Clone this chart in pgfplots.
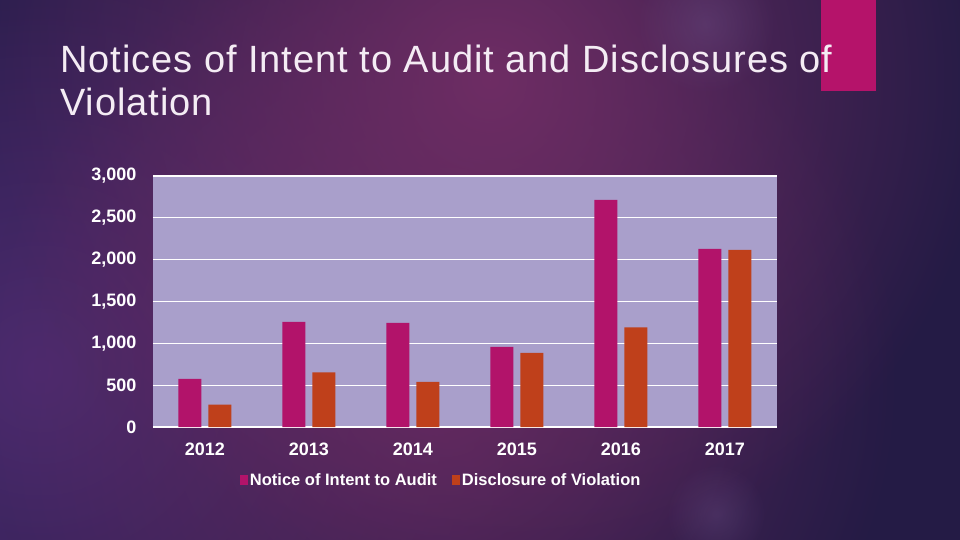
\documentclass[border=0pt]{standalone}
\usepackage{pgfplots}
\pgfplotsset{compat=1.18}
\usepackage{fontspec}
\setmainfont{Liberation Sans}
\usetikzlibrary{fadings}
\definecolor{bgdark}{HTML}{241B45}
\definecolor{glowmag}{HTML}{6E2D64}
\definecolor{glowpur}{HTML}{4C2B70}
\definecolor{plotbg}{HTML}{A99FCB}
\definecolor{nia}{HTML}{B2136A}
\definecolor{dov}{HTML}{BF401B}
\definecolor{pinkbox}{HTML}{B5136A}
\definecolor{titlecol}{HTML}{F4ECF4}
\tikzfading[name=glowfade, inner color=transparent!0, outer color=transparent!100]
\begin{document}
\begin{tikzpicture}[x=1pt,y=1pt]
\fill[bgdark] (0,0) rectangle (960,540);
\begin{scope}
\clip (0,0) rectangle (960,540);
\fill[glowpur, path fading=glowfade] (40,170) circle (500);
\fill[glowmag!80!bgdark, path fading=glowfade] (440,160) circle (460);
\fill[glowmag, path fading=glowfade] (490,460) circle (500);
\fill[glowpur!80!white, opacity=0.35, path fading=glowfade] (706,516) circle (70);
\fill[glowpur!80!white, opacity=0.3, path fading=glowfade] (716,26) circle (50);
\end{scope}
\fill[pinkbox] (821,449) rectangle (876,540);
\node[anchor=base west, inner sep=0, text=titlecol, font=\fontsize{38}{44}\selectfont\addfontfeature{LetterSpace=2.5}] at (60,467) {Notices of Intent to Audit and Disclosures of};
\node[anchor=base west, inner sep=0, text=titlecol, font=\fontsize{38}{44}\selectfont\addfontfeature{LetterSpace=2.5}] at (60,424) {Violation};
\begin{axis}[
  at={(147,135)}, anchor=south west,
  scale only axis, width=624pt, height=251pt,
  xmin=-0.5, xmax=5.5, ymin=0, ymax=3000,
  axis background/.style={fill=plotbg},
  axis line style={draw=none},
  ymajorgrids, grid style={white, line width=1.2pt},
  major tick length=0pt,
  xtick={0,1,2,3,4,5},
  xticklabels={2012,2013,2014,2015,2016,2017},
  ytick={0,500,1000,1500,2000,2500,3000},
  yticklabels={0,500,{1,000},{1,500},{2,000},{2,500},{3,000}},
  tick label style={font=\fontsize{18}{20}\selectfont\bfseries, text=white},
  xticklabel style={yshift=-12pt},
  yticklabel style={xshift=-13pt},
  ybar, bar width=0.221,
  legend style={at={(0.462,-0.211)}, anchor=center, draw=none, fill=none,
    text=white, font=\fontsize{16.5}{18}\selectfont\bfseries, legend columns=2,
    /tikz/every even column/.append style={column sep=13pt}},
  legend image code/.code={\fill[#1] (0pt,-5pt) rectangle (8pt,5pt);},
]
\addplot[fill=nia, draw=none, bar shift=-0.144] coordinates {(0,577) (1,1257) (2,1245) (3,959) (4,2714) (5,2129)};
\addplot[fill=dov, draw=none, bar shift=0.144] coordinates {(0,267) (1,653) (2,541) (3,887) (4,1190) (5,2117)};
\legend{Notice of Intent to Audit, Disclosure of Violation}
\end{axis}
\end{tikzpicture}
\end{document}
